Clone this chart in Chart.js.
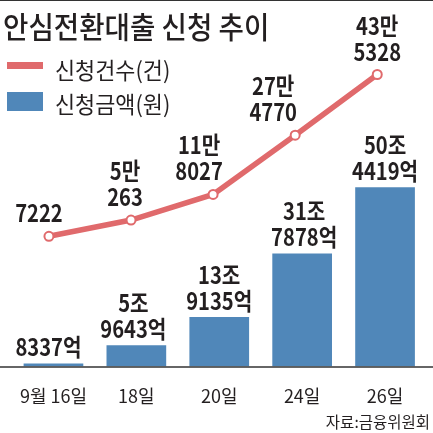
<!DOCTYPE html>
<html>
<head>
<meta charset="utf-8">
<script src="https://cdn.jsdelivr.net/npm/chart.js@4"></script>
<style>
  html, body { margin: 0; padding: 0; background: #fff; }
  #wrap { position: relative; width: 433px; height: 433px; overflow: hidden; border-top: 1.5px solid #333; box-sizing: border-box; }
  #chart { position: absolute; left: 0; top: 0; }
  .txt { position: absolute; white-space: nowrap; color: #231f20; font-family: "Noto Sans CJK KR", sans-serif; transform-origin: left top; }
  #title { left: 3px; top: 2px; font-size: 30px; font-weight: 500; transform: scaleX(0.92); }
  .lg { font-size: 23px; transform: scaleX(0.95); }
  #src { right: 3px; top: 409px; font-size: 15.5px; transform-origin: right top; }
  .sw { position: absolute; left: 7px; width: 36px; }
</style>
</head>
<body>
<div id="wrap">
  <canvas id="chart" width="433" height="433"></canvas>
  <div class="txt" id="title">안심전환대출 신청 추이</div>
  <div class="sw" style="top:61px;height:7px;background:#e06a6c"></div>
  <div class="txt lg" style="left:55px;top:51px">신청건수(건)</div>
  <div class="sw" style="top:91px;height:19px;background:#5087b9"></div>
  <div class="txt lg" style="left:55px;top:85px">신청금액(원)</div>
  <div class="txt" id="src">자료:금융위원회</div>
</div>
<script>
// 날짜
const categories = ['9월 16일', '18일', '20일', '24일', '26일'];
// 신청건수 (건)
const applications = [7222, 50263, 118027, 274770, 435328];
// 신청금액 (억원)
const amounts = [8337, 59643, 139135, 317878, 504419];

const RED = '#e06a6c';
const BLUE = '#5087b9';

// 라벨 문구
function fmtCount(v) {
    return v >= 10000 ? [Math.floor(v / 10000) + '만', String(v % 10000)] : [String(v)];
}
function fmtAmount(v) {
    return v >= 10000 ? [Math.floor(v / 10000) + '조', (v % 10000) + '억'] : [v + '억'];
}

// 라벨 가로 이동 (겹침 피하기)
const lineShift = [-10, -6, -14, -22, 0];
const barShift = [-5, -3, 0, 2, 0];

const labelPlugin = {
    id: 'labels',
    afterDatasetsDraw(chart) {
        const ctx = chart.ctx;
        ctx.save();
        ctx.fillStyle = '#231f20';
        ctx.font = 'bold 24px "Noto Sans CJK KR"';
        ctx.textAlign = 'center';
        ctx.textBaseline = 'alphabetic';
        const draw = (lines, x, y) => {
            lines.slice().reverse().forEach((t, k) => {
                ctx.save();
                ctx.translate(x, y - k * 26);
                ctx.scale(0.84, 1);
                ctx.fillText(t, 0, 0);
                ctx.restore();
            });
        };
        chart.getDatasetMeta(0).data.forEach((el, i) => {
            draw(fmtAmount(amounts[i]), el.x + barShift[i], el.y - 7);
        });
        chart.getDatasetMeta(1).data.forEach((el, i) => {
            draw(fmtCount(applications[i]), el.x + lineShift[i], el.y - 14);
        });
        // 기준선
        ctx.strokeStyle = '#333';
        ctx.lineWidth = 1.5;
        ctx.beginPath();
        ctx.moveTo(0, chart.chartArea.bottom + 0.5);
        ctx.lineTo(chart.width, chart.chartArea.bottom + 0.5);
        ctx.stroke();
        ctx.restore();
    }
};

new Chart(document.getElementById('chart'), {
    type: 'bar',
    data: {
        labels: categories,
        datasets: [{
            type: 'bar',
            data: amounts,
            backgroundColor: BLUE,
            barPercentage: 0.72,
            categoryPercentage: 1,
            grouped: false,
            xAxisID: 'x',
            yAxisID: 'y',
            order: 2
        }, {
            type: 'line',
            data: applications.map((v, i) => ({ x: i, y: v })),
            borderColor: RED,
            borderWidth: 5.5,
            pointRadius: 4.5,
            pointBorderWidth: 2,
            pointBackgroundColor: '#fff',
            pointBorderColor: RED,
            tension: 0,
            xAxisID: 'x2',
            yAxisID: 'y2',
            order: 1
        }]
    },
    options: {
        responsive: false,
        animation: false,
        devicePixelRatio: 1,
        layout: { padding: { top: 40, left: 12, right: 4, bottom: 16 } },
        plugins: { legend: { display: false }, tooltip: { enabled: false } },
        scales: {
            x: {
                type: 'category',
                grid: { display: false },
                border: { display: false },
                ticks: {
                    color: '#231f20',
                    padding: 11,
                    font: { family: '"Noto Sans CJK KR"', size: 18 }
                }
            },
            x2: { type: 'linear', display: false, offset: false, min: -0.45, max: 4.6 },
            y: { display: false, min: 0, max: 916000 },
            y2: { display: false, min: -337000, max: 524000 }
        }
    },
    plugins: [labelPlugin]
});
</script>
</body>
</html>
